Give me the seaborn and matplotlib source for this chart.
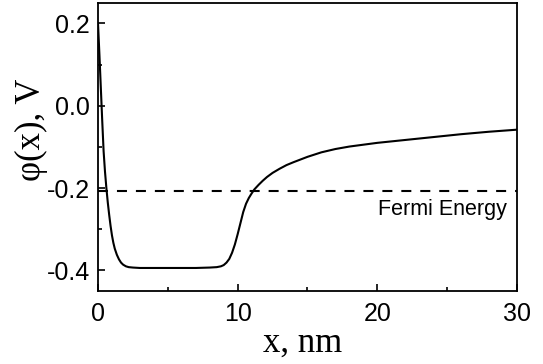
import matplotlib
matplotlib.use("Agg")
import matplotlib.pyplot as plt
from matplotlib.ticker import MultipleLocator
import seaborn as sns
import pandas as pd

# potential profile
x_nm = [0, 0.1, 0.2, 0.3, 0.4, 0.5, 0.6, 0.7, 0.8, 0.9, 1.0, 1.1, 1.2, 1.35, 1.5,
        1.65, 1.8, 2.0, 2.2, 2.5, 3.0, 4.0, 5.0, 6.0, 7.0, 8.0, 8.5, 8.8, 9.0,
        9.2, 9.4, 9.6, 9.8, 10.0, 10.2, 10.4, 10.6, 10.8, 11.0, 11.2, 11.5,
        11.8, 12.1, 12.5, 13.0, 13.5, 14.0, 15.0, 16.0, 17.0, 18.0, 20.0,
        22.0, 24.0, 26.0, 28.0, 30.0]
phi = [0.20, 0.125, 0.045, -0.035, -0.11, -0.16, -0.20, -0.235, -0.265, -0.292,
       -0.315, -0.333, -0.347, -0.362, -0.373, -0.381, -0.386, -0.390, -0.392,
       -0.393, -0.394, -0.394, -0.394, -0.394, -0.394, -0.393, -0.392, -0.390,
       -0.387, -0.381, -0.372, -0.357, -0.337, -0.312, -0.285, -0.258, -0.238,
       -0.224, -0.213, -0.203, -0.192, -0.182, -0.173, -0.163, -0.153, -0.144,
       -0.137, -0.124, -0.113, -0.105, -0.099, -0.090, -0.083, -0.076, -0.069,
       -0.063, -0.058]
fermi_level = -0.207
fermi_label = "Fermi Energy"

df = pd.DataFrame({"x": x_nm, "phi": phi})

sns.set_style("ticks")
plt.rcParams["text.color"] = "black"
plt.rcParams["axes.labelcolor"] = "black"
plt.rcParams["xtick.color"] = "black"
plt.rcParams["ytick.color"] = "black"
plt.rcParams["axes.edgecolor"] = "black"

fig = plt.figure(figsize=(5.43, 3.64), dpi=100)
ax = fig.add_axes([0.1805, 0.2005, 0.7715, 0.7915])

sns.lineplot(data=df, x="x", y="phi", ax=ax, color="black", linewidth=1.5)
ax.axhline(fermi_level, color="black", linestyle=(0, (4.8, 4.3)), linewidth=1.5)
ax.text(29.3, -0.253, fermi_label, ha="right", va="center",
        fontsize=15.5, family="Liberation Sans", color="black")

ax.set_xlim(0, 30)
ax.set_ylim(-0.45, 0.25)
ax.xaxis.set_major_locator(MultipleLocator(10))
ax.xaxis.set_minor_locator(MultipleLocator(5))
ax.yaxis.set_major_locator(MultipleLocator(0.2))
ax.yaxis.set_minor_locator(MultipleLocator(0.1))
ax.set_yticks([-0.4, -0.2, 0.0, 0.2])
ax.set_yticklabels(["-0.4", "-0.2", "0.0", "0.2"])
ax.set_xticks([0, 10, 20, 30])
ax.set_xticklabels(["0", "10", "20", "30"])

ax.tick_params(which="both", direction="in", width=1.2, colors="black")
ax.tick_params(which="major", length=5, labelsize=18)
ax.tick_params(axis="x", which="major", pad=8)
ax.tick_params(axis="y", which="major", pad=6)
ax.tick_params(which="minor", length=3)
for lab in ax.get_xticklabels() + ax.get_yticklabels():
    lab.set_family("Liberation Sans")

ax.set_xlabel("x, nm", fontsize=25, family="Liberation Serif", color="black")
ax.set_ylabel("φ(x), V", fontsize=25, family="Liberation Serif", color="black")
ax.xaxis.set_label_coords(0.488, -0.124)
ax.yaxis.set_label_coords(-0.119, 0.56)

for sp in ax.spines.values():
    sp.set_linewidth(1.3)
    sp.set_color("black")
    sp.set_visible(True)

fig.savefig("out.png", dpi=100)
